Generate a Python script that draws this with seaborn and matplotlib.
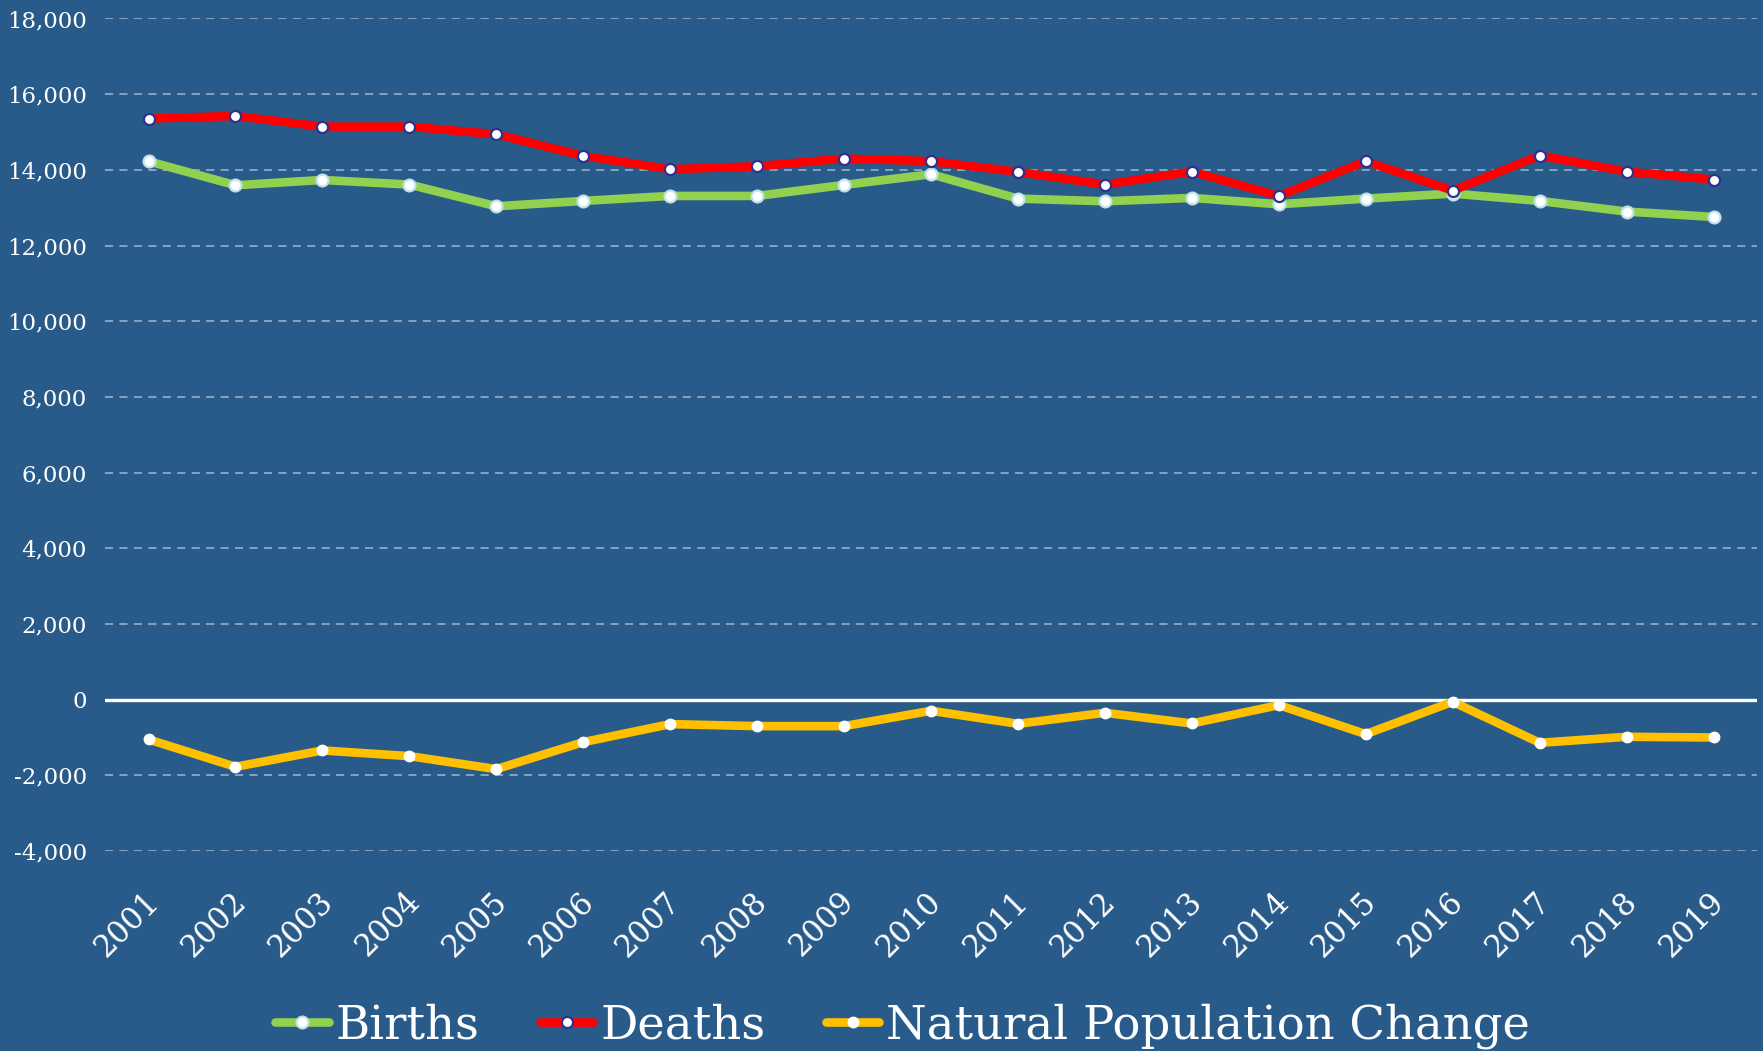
import matplotlib
matplotlib.use("Agg")
import matplotlib.pyplot as plt
import matplotlib.transforms as mtransforms
from matplotlib.lines import Line2D
from matplotlib.ticker import FuncFormatter
import seaborn as sns
import pandas as pd

years = [str(y) for y in range(2001, 2020)]
births = [14227, 13593, 13733, 13611, 13038, 13179, 13311, 13311, 13602, 13884,
          13240, 13170, 13258, 13091, 13240, 13373, 13179, 12898, 12756]
deaths = [15355, 15425, 15143, 15143, 14940, 14368, 14016, 14095, 14298, 14227,
          13945, 13611, 13954, 13311, 14227, 13452, 14377, 13954, 13743]
natural_change = [-1052, -1775, -1343, -1493, -1836, -1123, -647, -700, -700, -295,
                  -639, -348, -630, -145, -911, -57, -1141, -982, -1000]
series_names = ["Births", "Deaths", "Natural Population Change"]
y_ticks = list(range(-4000, 18001, 2000))

BG = "#285B8A"
sns.set_theme(style="white")
plt.rcParams["font.family"] = ["DejaVu Serif"]

fig = plt.figure(figsize=(17.63, 10.51), dpi=100, facecolor=BG)
ax = fig.add_axes([0.0596, 0.1903, 0.9370, 0.7921])
ax.set_facecolor(BG)

df_b = pd.DataFrame({"Year": years, "Value": births})
df_d = pd.DataFrame({"Year": years, "Value": deaths})
df_n = pd.DataFrame({"Year": years, "Value": natural_change})

# gridlines
for t in y_ticks:
    if t == 0:
        ax.axhline(0, color="white", lw=2.4, zorder=1)
    else:
        ax.axhline(t, color="#8FA8C2", lw=1.3, ls=(0, (4.5, 3.5)), zorder=0.5)

styles = [
    dict(color="#92D050", mfc="white", mec="#BFE3EC", ms=8.5, mew=1.6),
    dict(color="#FF0000", mfc="white", mec="#2E3192", ms=8.0, mew=1.6),
    dict(color="#FFC000", mfc="white", mec="white", ms=7.5, mew=1.0),
]
for df, st, z in zip([df_b, df_d, df_n], styles, [3, 4, 3]):
    sns.lineplot(data=df, x="Year", y="Value", ax=ax, color=st["color"], lw=6.2,
                 marker="o", markerfacecolor=st["mfc"], markeredgecolor=st["mec"],
                 markersize=st["ms"], markeredgewidth=st["mew"], zorder=z,
                 solid_capstyle="round", solid_joinstyle="round", legend=False)

ax.set_xlim(-0.5, len(years) - 0.5)
ax.set_ylim(-4000, 18000)
ax.set_yticks(y_ticks)
ax.yaxis.set_major_formatter(FuncFormatter(lambda v, p: f"{int(v):,}"))
ax.set_xlabel("")
ax.set_ylabel("")
for s in ax.spines.values():
    s.set_visible(False)
ax.tick_params(axis="y", length=0, pad=13, labelsize=16.5, labelcolor="white")
ax.tick_params(axis="x", length=0, pad=25, labelsize=22, labelcolor="white")
offset = mtransforms.ScaledTranslation(17 / 100, 0, fig.dpi_scale_trans)
for lab in ax.get_xticklabels():
    lab.set_rotation(45)
    lab.set_ha("right")
    lab.set_va("top")
    lab.set_transform(lab.get_transform() + offset)

handles = [Line2D([0], [0], color=st["color"], lw=6.2, marker="o",
                  markerfacecolor=st["mfc"], markeredgecolor=st["mec"],
                  markersize=st["ms"], markeredgewidth=st["mew"],
                  solid_capstyle="round") for st in styles]
leg = fig.legend(handles, series_names, loc="center", bbox_to_anchor=(0.512, 0.024),
                 ncol=3, frameon=False, fontsize=33.5, handlelength=1.15,
                 handletextpad=0.15, columnspacing=1.3, borderpad=0)
for t in leg.get_texts():
    t.set_color("white")

fig.savefig("out.png", dpi=100, facecolor=BG)
